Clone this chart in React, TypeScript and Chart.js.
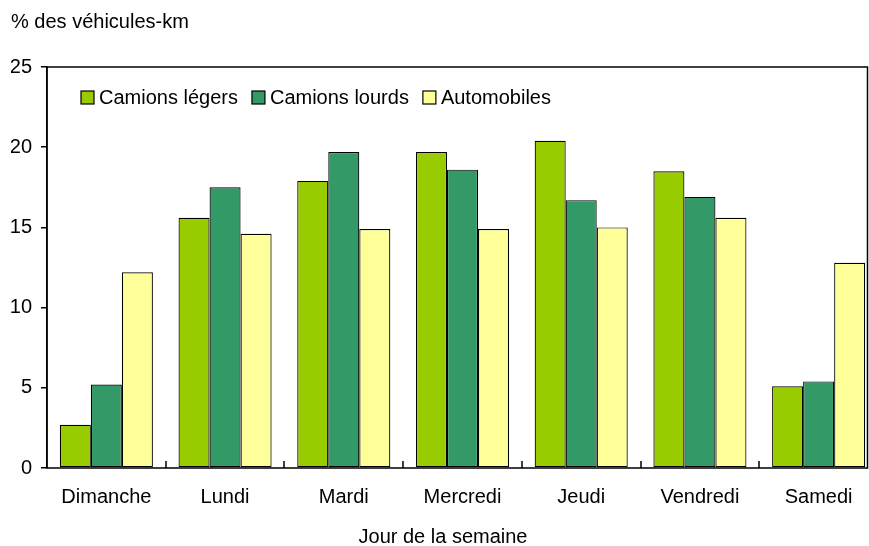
import React, { useEffect, useRef } from "react";
import { Chart, registerables } from "chart.js";

Chart.register(...registerables);

const categories = ["Dimanche", "Lundi", "Mardi", "Mercredi", "Jeudi", "Vendredi", "Samedi"];
const camionsLegers = [2.7, 15.6, 17.9, 19.7, 20.4, 18.5, 5.1];
const camionsLourds = [5.2, 17.5, 19.7, 18.6, 16.7, 16.9, 5.4];
const automobiles = [12.2, 14.6, 14.9, 14.9, 15.0, 15.6, 12.8];
const seriesNames = ["Camions légers", "Camions lourds", "Automobiles"];
const seriesColors = ["#99CC00", "#339966", "#FFFF99"];
const yTitle = "% des véhicules-km";
const xTitle = "Jour de la semaine";

const FONT = "'Liberation Sans', Arial, sans-serif";
const FS = 20;
const W = 869;
const H = 546;
const CANVAS_W = 880;

const framePlugin = {
  id: "frame",
  afterDatasetsDraw(chart: any) {
    const { ctx, chartArea } = chart;
    const { left, right, top, bottom } = chartArea;
    const frameRight = W - 1.5;
    ctx.save();
    ctx.strokeStyle = "#000";
    ctx.lineWidth = 1.5;
    ctx.beginPath();
    ctx.moveTo(left, top);
    ctx.lineTo(frameRight, top);
    ctx.lineTo(frameRight, bottom);
    ctx.lineTo(left, bottom);
    ctx.closePath();
    ctx.stroke();
    // inward x ticks between categories
    const n = categories.length;
    const w = (right - left) / n;
    ctx.beginPath();
    for (let i = 1; i < n; i++) {
      const x = Math.round(left + i * w);
      ctx.moveTo(x, bottom);
      ctx.lineTo(x, bottom - 7);
    }
    ctx.stroke();
    // legend
    ctx.font = `${FS}px ${FONT}`;
    ctx.textBaseline = "middle";
    ctx.textAlign = "left";
    ctx.lineWidth = 1.2;
    let x = left + 34;
    const cy = top + 30;
    seriesNames.forEach((name, i) => {
      ctx.fillStyle = seriesColors[i];
      ctx.fillRect(x, cy - 6, 13, 13);
      ctx.strokeStyle = "#000";
      ctx.strokeRect(x, cy - 6, 13, 13);
      ctx.fillStyle = "#000";
      ctx.fillText(name, x + 18, cy + 1);
      x += 18 + ctx.measureText(name).width + 14;
    });
    // x axis title
    ctx.textAlign = "center";
    ctx.fillText(xTitle, 443, 537);
    ctx.restore();
  },
};

export default function App() {
  const ref = useRef<HTMLCanvasElement>(null);
  useEffect(() => {
    document.body.style.margin = "0";
    document.body.style.overflow = "hidden";
    const chart = new Chart(ref.current!, {
      type: "bar",
      data: {
        labels: categories,
        datasets: [camionsLegers, camionsLourds, automobiles].map((d, i) => ({
          label: seriesNames[i],
          data: d,
          backgroundColor: seriesColors[i],
          borderColor: "#000",
          borderWidth: 1.2,
          borderSkipped: false,
          categoryPercentage: 0.784,
          barPercentage: 1,
        })),
      },
      options: {
        responsive: false,
        animation: false,
        layout: { padding: { left: 11, right: 2, top: 0, bottom: 0 } },
        plugins: {
          legend: { display: false },
          tooltip: { enabled: false },
          title: {
            display: true,
            text: yTitle,
            align: "start",
            color: "#000",
            font: { family: FONT, size: FS, weight: "normal" },
            padding: { top: 10, bottom: 33 },
          },
        },
        scales: {
          x: {
            grid: { display: false, drawTicks: false },
            border: { display: false },
            ticks: { color: "#000", font: { family: FONT, size: FS }, padding: 17, maxRotation: 0 },
            title: { display: false },
            afterFit: (s: any) => {
              s.height = 78;
            },
          },
          y: {
            min: 0,
            max: 25,
            ticks: { stepSize: 5, color: "#000", font: { family: FONT, size: FS }, padding: 9 },
            grid: { drawOnChartArea: false, drawTicks: true, tickLength: 6, color: "#000", lineWidth: 1.5 },
            border: { display: true, color: "#000", width: 1.5 },
            afterFit: (s: any) => {
              s.width = 36;
            },
          },
        },
      },
      plugins: [framePlugin],
    });
    return () => chart.destroy();
  }, []);
  return (
    <div style={{ width: W, height: H, overflow: "hidden" }}>
      <canvas ref={ref} width={CANVAS_W} height={H} style={{ display: "block" }} />
    </div>
  );
}
